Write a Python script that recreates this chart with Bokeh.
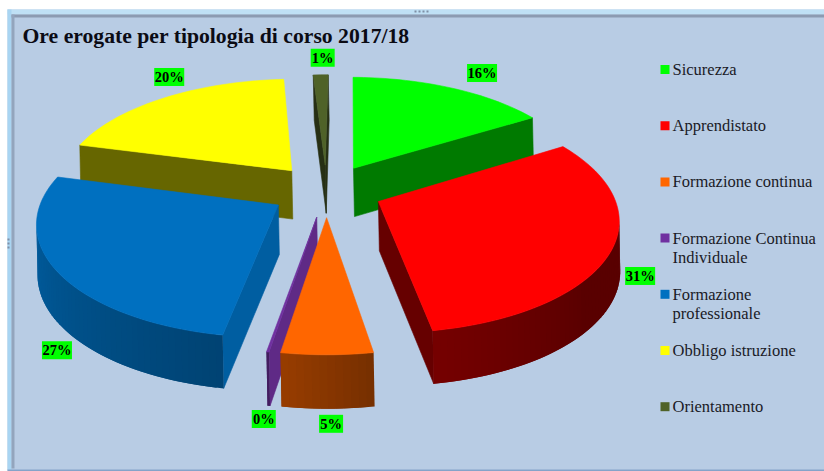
import math
from bokeh.plotting import figure
from bokeh.embed import file_html
from bokeh.resources import INLINE
from bokeh.core.properties import value

# ---- data ----
categories = ["Sicurezza", "Apprendistato", "Formazione continua", "Formazione Continua Individuale",
              "Formazione professionale", "Obbligo istruzione", "Orientamento"]
legend_lines = [["Sicurezza"], ["Apprendistato"], ["Formazione continua"],
                ["Formazione Continua", "Individuale"], ["Formazione", "professionale"],
                ["Obbligo istruzione"], ["Orientamento"]]
values = [16.1, 31.3, 5.3, 0.15, 26.5, 20.05, 1.2]
pct_labels = ["16%", "31%", "5%", "0%", "27%", "20%", "1%"]
colors = ["#00ff00", "#ff0000", "#ff6600", "#7030a0", "#0070c0", "#ffff00", "#4f6228"]
title_text = "Ore erogate per tipologia di corso 2017/18"

# ---- projection / style ----
CX, CY, A, B, P, H, EXPL, ROT = 326.0, 190.0, 234.0, 109.5, 0.14, 49.0, 0.24, 0.8
CUT = 0.40
SHADE_T = [40, 130, 170, 190, 240, 290, 360]
SHADE_V = [0.35, 0.35, 0.46, 0.60, 0.75, 0.90, 0.90]
LABEL_NUDGE = [(31, -15), (29, 25), (4, 69), (-4, 67), (0, 79), (5, -21), (2, -17)]
SERIF = "Liberation Serif"


def rgb(c):
    return tuple(int(c[i:i + 2], 16) for i in (1, 3, 5))


def shade(c, f):
    return "#%02x%02x%02x" % tuple(int(round(v * f)) for v in rgb(c))


def lerp_shade(t):
    t = t % 360
    for i in range(len(SHADE_T) - 1):
        if SHADE_T[i] <= t <= SHADE_T[i + 1]:
            u = (t - SHADE_T[i]) / (SHADE_T[i + 1] - SHADE_T[i])
            return SHADE_V[i] + u * (SHADE_V[i + 1] - SHADE_V[i])
    return SHADE_V[0]


def proj(X, Y, low=False):
    s = 1.0 / (1.0 + P * Y)
    x = CX + A * X * s
    y = CY - B * Y * s
    if low:
        return x + 1, y + H * math.sqrt(s)
    return x, y


def area(pts):
    return sum(pts[i][0] * pts[(i + 1) % len(pts)][1] - pts[(i + 1) % len(pts)][0] * pts[i][1]
               for i in range(len(pts)))


total = sum(values)
wedges = []
cum = 0.0
for v, c, lab in zip(values, colors, pct_labels):
    t0 = cum / total * 360 + ROT
    cum += v
    t1 = cum / total * 360 + ROT
    wedges.append((t0, t1, c, lab))

xs, ys, fills, widths = [], [], [], []


def add(pts, col, lw=0.6):
    xs.append([q[0] for q in pts])
    ys.append([q[1] for q in pts])
    fills.append(col)
    widths.append(lw)


def draw_wedge(t0, t1, c):
    mid = math.radians((t0 + t1) / 2)
    ox, oy = EXPL * math.sin(mid), EXPL * math.cos(mid)
    n = max(2, int((t1 - t0) / 1.5))
    angs = [math.radians(t0 + (t1 - t0) * i / n) for i in range(n + 1)]
    rim = [(ox + math.sin(a), oy + math.cos(a)) for a in angs]
    ap_t, ap_b = proj(ox, oy), proj(ox, oy, True)
    top = [proj(*r) for r in rim]
    bot = [proj(*r, True) for r in rim]
    cut_col = shade(c, CUT if c != "#0070c0" else 0.84)
    if c == "#7030a0":
        cut_col = "#5f2a86"
    if c == "#4f6228":
        cut_col = "#262f14"
    if c == "#00ff00":
        cut_col = "#007a00"
    start = [ap_t, top[0], bot[0], ap_b]
    end = [ap_t, top[-1], bot[-1], ap_b]
    if area(start) < 0:
        add(start, cut_col)
    if area(end) > 0:
        add(end, cut_col)
    for i in range(n):
        q = [top[i], top[i + 1], bot[i + 1], bot[i]]
        if area(q) < 0:
            j = min(i + 2, n)
            q = [top[i], top[j], bot[j], bot[i]]
            tm = t0 + (t1 - t0) * (i + 0.5) / n
            add(q, shade(c, lerp_shade(tm)), 0)
    add([ap_t] + top, c)


order = sorted(range(len(wedges)), key=lambda i: -math.cos(math.radians((wedges[i][0] + wedges[i][1]) / 2)))
for i in order:
    draw_wedge(*wedges[i][:3])

p = figure(width=824, height=471, x_range=(0, 824), y_range=(471, 0), toolbar_location=None,
           output_backend="svg", min_border=0, outline_line_color=None,
           background_fill_color="#ffffff", border_fill_color="#ffffff")
p.xaxis.visible = False
p.yaxis.visible = False
p.grid.visible = False

# chart frame
p.quad(left=[7], right=[824], top=[9], bottom=[470], fill_color="#b8cce4", line_color=None)
p.quad(left=[7], right=[824], top=[9], bottom=[14], fill_color="#bfe0f5", line_color=None)
p.quad(left=[7], right=[11], top=[9], bottom=[470], fill_color="#a9d5f2", line_color=None)
p.quad(left=[11], right=[824], top=[14], bottom=[17], fill_color="#8c9bb2", line_color=None)
p.quad(left=[11], right=[14], top=[14], bottom=[468], fill_color="#93a5bd", line_color=None)
p.quad(left=[7], right=[824], top=[469], bottom=[471], fill_color="#85a3c9", line_color=None)
# resize handles of the frame
p.quad(left=[414, 418, 422, 426], right=[416, 420, 424, 428], top=[10] * 4, bottom=[12] * 4,
       fill_color="#7f8fa6", line_color=None)
p.quad(left=[7] * 3, right=[9] * 3, top=[238, 242, 246], bottom=[240, 244, 248],
       fill_color="#7f8fa6", line_color=None)

p.patches(xs, ys, fill_color=fills, line_color=fills, line_width=widths)

# data labels on the bisector of each wedge
for (t0, t1, c, lab), (dx, dy) in zip(wedges, LABEL_NUDGE):
    mid = math.radians((t0 + t1) / 2)
    X = (EXPL + 1) * math.sin(mid)
    Y = (EXPL + 1) * math.cos(mid)
    x, y = proj(X, Y)
    x += dx
    y += dy
    w = 30 if len(lab) == 3 else 24
    p.quad(left=[x - w / 2], right=[x + w / 2], top=[y - 9], bottom=[y + 9], fill_color="#00ff00", line_color=None)
    p.text([x], [y], text=[lab], text_align="center", text_baseline="middle", text_font=value(SERIF),
           text_font_style="bold", text_font_size="14.5px", text_color="#000000")

# title
p.text([22], [35], text=[title_text], text_align="left", text_baseline="middle", text_font=value(SERIF),
       text_font_style="bold", text_font_size="21.7px", text_color="#0b0b14")

# legend
LEG_Y0, LEG_STEP = 69.0, 56.2
for i, (lines, c) in enumerate(zip(legend_lines, colors)):
    yc = LEG_Y0 + i * LEG_STEP
    p.quad(left=[660], right=[669], top=[yc - 4.5], bottom=[yc + 4.5], fill_color=c, line_color=None)
    for j, ln in enumerate(lines):
        p.text([672], [yc + j * 19], text=[ln], text_align="left", text_baseline="middle", text_font=value(SERIF),
               text_font_size="16.5px", text_color="#1a1a26")

open("out.html", "w").write(file_html(p, INLINE))
